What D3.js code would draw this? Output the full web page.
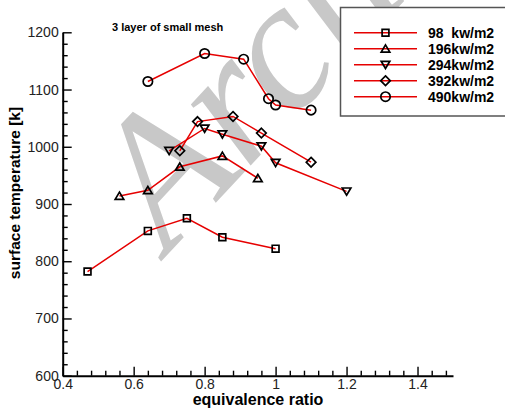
<!DOCTYPE html>
<html>
<head>
<meta charset="utf-8">
<script src="https://cdn.jsdelivr.net/npm/d3@7"></script>
<style>
  body { margin: 0; background: #fff; }
  svg { display: block; font-family: "Liberation Sans", Arial, sans-serif; }
</style>
</head>
<body>
<svg id="chart" width="505" height="415"></svg>
<script>
// Heat flux cases (legend labels)
const seriesNames = ["98  kw/m2", "196kw/m2", "294kw/m2", "392kw/m2", "490kw/m2"];
const seriesMarkers = ["square", "triangleUp", "triangleDown", "diamond", "circle"];

// Equivalence ratio / surface temperature [K] per case
const ratio98  = [0.47, 0.64, 0.75, 0.85, 1.00];
const temp98   = [782, 853, 875, 842, 822];
const ratio196 = [0.56, 0.64, 0.73, 0.85, 0.95];
const temp196  = [914, 924, 965, 984, 945];
const ratio294 = [0.70, 0.80, 0.85, 0.96, 1.00, 1.20];
const temp294  = [993, 1032, 1022, 1001, 972, 922];
const ratio392 = [0.73, 0.78, 0.88, 0.96, 1.10];
const temp392  = [993, 1044, 1053, 1024, 973];
const ratio490 = [0.64, 0.80, 0.91, 0.98, 1.00, 1.10];
const temp490  = [1114, 1163, 1153, 1084, 1073, 1064];

// Axis ticks
const xTickValues = [0.4, 0.6, 0.8, 1.0, 1.2, 1.4];
const xTickLabels = ["0.4", "0.6", "0.8", "1", "1.2", "1.4"];
const yTickValues = [600, 700, 800, 900, 1000, 1100, 1200];
const yTickLabels = ["600", "700", "800", "900", "1000", "1100", "1200"];

const chartTitle = "3 layer of small mesh";
const xTitle = "equivalence ratio";
const yTitle = "surface temperature [k]";
const watermarkText = "Archive";

const series = [
  { name: seriesNames[0], marker: seriesMarkers[0], xs: ratio98,  ys: temp98 },
  { name: seriesNames[1], marker: seriesMarkers[1], xs: ratio196, ys: temp196 },
  { name: seriesNames[2], marker: seriesMarkers[2], xs: ratio294, ys: temp294 },
  { name: seriesNames[3], marker: seriesMarkers[3], xs: ratio392, ys: temp392 },
  { name: seriesNames[4], marker: seriesMarkers[4], xs: ratio490, ys: temp490 }
];

const svg = d3.select("#chart");
const x = d3.scaleLinear().domain([0.4, 1.5]).range([62.7, 453]);
const y = d3.scaleLinear().domain([600, 1200]).range([375.7, 32.3]);

const LINE_RED = "#e60000";

// Background watermark
svg.append("text")
  .attr("transform", "translate(168,254) rotate(-47)")
  .attr("font-family", "'Liberation Serif', 'Times New Roman', serif")
  .attr("font-style", "italic")
  .attr("font-size", 186)
  .attr("fill", "#c8c8c8")
  .text(watermarkText);

// Marker shapes (hollow, black outline)
function markerPath(type) {
  switch (type) {
    case "square": return "M-3.4,-3.4H3.4V3.4H-3.4Z";
    case "triangleUp": return "M0,-3.8L4.3,3.4L-4.3,3.4Z";
    case "triangleDown": return "M0,3.8L4.3,-3.4L-4.3,-3.4Z";
    case "diamond": return "M0,-4.8L4.8,0L0,4.8L-4.8,0Z";
    case "circle": return d3.arc()({ innerRadius: 0, outerRadius: 4.7, startAngle: 0, endAngle: 2 * Math.PI });
  }
}

// Axes: minor ticks every 0.04 / 20 K, major ticks labelled
const xMinor = d3.range(0.4, 1.5001, 0.04).filter(v => !xTickValues.some(t => Math.abs(t - v) < 1e-6));
const yMinor = d3.range(600, 1200.01, 20).filter(v => v % 100 !== 0);

const xAxisG = svg.append("g").attr("transform", `translate(0,${y(600)})`);
xAxisG.call(d3.axisBottom(x).tickValues(xMinor).tickSize(-5).tickSizeOuter(0).tickFormat(""));
xAxisG.call(g => g.select(".domain").remove());
svg.append("g").attr("transform", `translate(0,${y(600)})`)
  .call(d3.axisBottom(x).tickValues(xTickValues).tickSize(-9).tickSizeOuter(0).tickPadding(3)
    .tickFormat((d, i) => xTickLabels[i]));

const yAxisG = svg.append("g").attr("transform", `translate(${x(0.4)},0)`);
yAxisG.call(d3.axisLeft(y).tickValues(yMinor).tickSize(-5).tickSizeOuter(0).tickFormat(""));
yAxisG.call(g => g.select(".domain").remove());
svg.append("g").attr("transform", `translate(${x(0.4)},0)`)
  .call(d3.axisLeft(y).tickValues(yTickValues).tickSize(-9).tickSizeOuter(0).tickPadding(4)
    .tickFormat((d, i) => yTickLabels[i]));

svg.selectAll(".tick line").attr("stroke", "#000").attr("stroke-width", 1.4);
svg.selectAll(".domain").attr("stroke", "#000").attr("stroke-width", 2);
svg.selectAll(".tick text")
  .attr("font-family", "'Liberation Sans', Arial, sans-serif")
  .attr("font-size", 14).attr("fill", "#222");

// Series lines and markers
const line = d3.line().x(d => x(d[0])).y(d => y(d[1]));
series.forEach(s => {
  const pts = s.xs.map((v, i) => [v, s.ys[i]]);
  svg.append("path")
    .attr("d", line(pts))
    .attr("fill", "none")
    .attr("stroke", LINE_RED)
    .attr("stroke-width", 1.5);
  svg.append("g").selectAll("path").data(pts).join("path")
    .attr("transform", d => `translate(${x(d[0])},${y(d[1])})`)
    .attr("d", markerPath(s.marker))
    .attr("fill", "none")
    .attr("stroke", "#000")
    .attr("stroke-width", 1.7);
});

// Titles
svg.append("text")
  .attr("x", 112).attr("y", 31)
  .attr("font-size", 11).attr("font-weight", "bold")
  .text(chartTitle);

svg.append("text")
  .attr("x", 258).attr("y", 405)
  .attr("text-anchor", "middle")
  .attr("font-size", 16).attr("font-weight", "bold")
  .text(xTitle);

svg.append("text")
  .attr("transform", "translate(20,193) rotate(-90)")
  .attr("text-anchor", "middle")
  .attr("font-size", 15.5).attr("font-weight", "bold")
  .text(yTitle);

// Legend
const legend = svg.append("g");
legend.append("rect")
  .attr("x", 340.5).attr("y", 7.5).attr("width", 200).attr("height", 108.5)
  .attr("fill", "#fff").attr("stroke", "#555").attr("stroke-width", 1.5);
series.forEach((s, i) => {
  const ry = 32.7 + i * 16;
  legend.append("line")
    .attr("x1", 354).attr("x2", 417).attr("y1", ry).attr("y2", ry)
    .attr("stroke", LINE_RED).attr("stroke-width", 1.5);
  legend.append("path")
    .attr("transform", `translate(385.5,${ry})`)
    .attr("d", markerPath(s.marker))
    .attr("fill", "none").attr("stroke", "#000").attr("stroke-width", 1.7);
  legend.append("text")
    .attr("x", 428).attr("y", ry + 5)
    .attr("font-size", 14).attr("font-weight", "bold")
    .style("white-space", "pre")
    .text(s.name);
});
</script>
</body>
</html>
